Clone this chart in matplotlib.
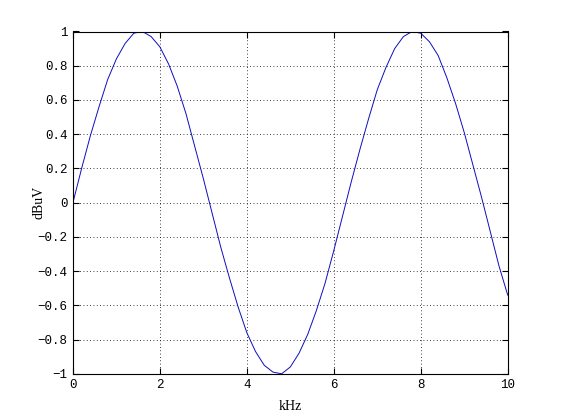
import matplotlib
matplotlib.use("Agg")
import matplotlib.pyplot as plt

# values
khz = [0.0, 0.2, 0.4, 0.6, 0.8, 1.0, 1.2, 1.4, 1.6, 1.8,
       2.0, 2.2, 2.4, 2.6, 2.8, 3.0, 3.2, 3.4, 3.6, 3.8,
       4.0, 4.2, 4.4, 4.6, 4.8, 5.0, 5.2, 5.4, 5.6, 5.8,
       6.0, 6.2, 6.4, 6.6, 6.8, 7.0, 7.2, 7.4, 7.6, 7.8,
       8.0, 8.2, 8.4, 8.6, 8.8, 9.0, 9.2, 9.4, 9.6, 9.8, 10.0]
dbuv = [0.00, 0.20, 0.39, 0.56, 0.72, 0.84, 0.93, 0.99, 1.00, 0.97,
        0.91, 0.81, 0.68, 0.52, 0.33, 0.14, -0.06, -0.26, -0.44, -0.61,
        -0.76, -0.87, -0.95, -0.99, -1.00, -0.96, -0.88, -0.77, -0.63, -0.47,
        -0.28, -0.08, 0.12, 0.31, 0.49, 0.66, 0.79, 0.90, 0.97, 1.00,
        0.99, 0.94, 0.86, 0.73, 0.58, 0.41, 0.22, 0.03, -0.17, -0.37, -0.54]

xticks = [0, 2, 4, 6, 8, 10]
yticks = [-1, -0.8, -0.6, -0.4, -0.2, 0, 0.2, 0.4, 0.6, 0.8, 1]
ylabels = ["\u22121", "\u22120.8", "\u22120.6", "\u22120.4", "\u22120.2", "0",
           "0.2", "0.4", "0.6", "0.8", "1"]

fig = plt.figure(figsize=(5.61, 4.2), dpi=100)
ax = fig.add_axes([0.13, 0.11, 0.775, 0.815])

ax.plot(khz, dbuv, color=(0.05, 0.05, 0.75), lw=0.7)

ax.set_xlim(0, 10)
ax.set_ylim(-1, 1)
ax.set_xticks(xticks)
ax.set_yticks(yticks)
ax.set_xticklabels([str(t) for t in xticks], family="Liberation Mono", fontsize=9)
ax.set_yticklabels(ylabels, family="Liberation Mono", fontsize=9)
ax.tick_params(direction="in", length=4, width=0.8, top=True, right=True, pad=4)
ax.grid(True, color="black", linestyle=(0, (1, 3)), linewidth=0.6)

for s in ax.spines.values():
    s.set_linewidth(0.8)

ax.set_xlabel("kHz", family="Liberation Serif", fontsize=10, labelpad=6)
ax.set_ylabel("dBuV", family="Liberation Serif", fontsize=10, labelpad=-6)

fig.savefig("out.png", dpi=100)
